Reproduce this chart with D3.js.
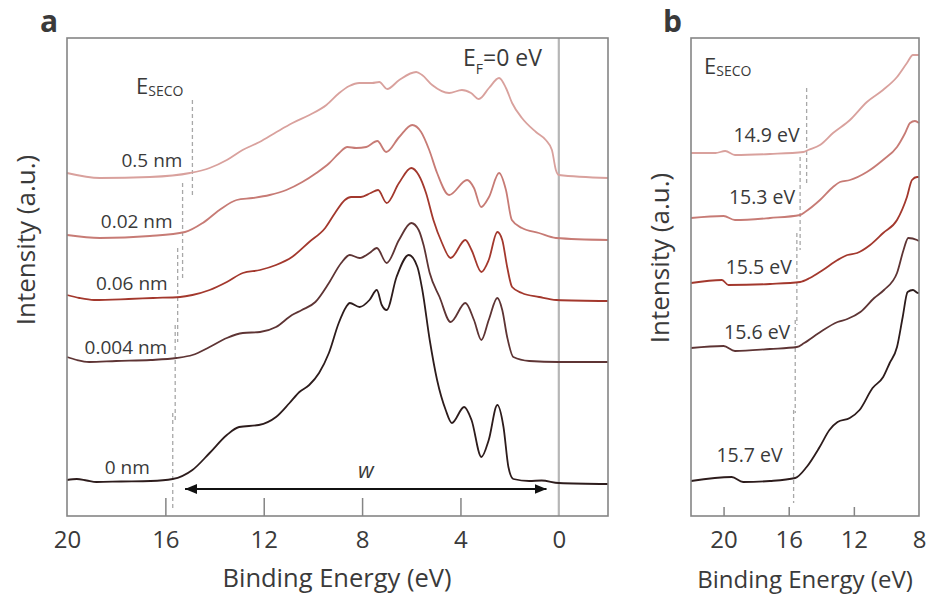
<!DOCTYPE html>
<html>
<head>
<meta charset="utf-8">
<script src="https://cdn.jsdelivr.net/npm/d3@7"></script>
<style>
  body { margin: 0; background: #fff; }
  text { font-family: 'Open Sans', sans-serif; fill: #3a3a3a; }
</style>
</head>
<body>
<svg id="fig" width="928" height="595"></svg>
<script>
// ---------- data: UPS spectra, binding energy (eV) vs intensity (a.u., baseline-subtracted) ----------
const thicknessLabels = ["0.5 nm", "0.02 nm", "0.06 nm", "0.004 nm", "0 nm"];
const secoLabels      = ["14.9 eV", "15.3 eV", "15.5 eV", "15.6 eV", "15.7 eV"];
const secoValues      = [14.9, 15.3, 15.5, 15.6, 15.7];
const seriesColors    = ["#d9a19d", "#c77b75", "#a3382d", "#5e3434", "#2d1c1c"];

// full valence-band spectra (panel a)
const spec05 = [[20,3],[18.66,-2],[16.63,-1],[15.0,3],[14.2,8],[13.5,16],[12.86,26],[12.17,34],[11.48,44],[10.83,53],[10.14,61],[9.45,71],[8.93,83],[8.52,90],[8.11,93],[7.59,93],[7.3,94],[6.98,87],[6.49,96],[5.8,104],[5.56,101],[5.15,91],[4.46,83],[3.94,86],[3.57,83],[3.25,77],[2.84,88],[2.43,98],[2.15,88],[1.9,73],[1.5,58],[0.93,44],[0.53,36],[0.28,26],[0.12,6],[0,1],[-2,-2]];
const spec002 = [[20,-1],[18.66,-4],[16.63,-2],[15.2,2],[14.48,11],[13.8,24],[13.1,34],[12.45,36],[11.76,39],[11.08,44],[10.43,52],[9.86,61],[9.33,71],[8.93,81],[8.6,87],[8.24,86],[7.83,87],[7.38,93],[7.02,82],[6.49,97],[5.96,109],[5.6,102],[5.27,84],[4.95,61],[4.46,39],[3.73,54],[3.45,46],[3.16,27],[2.84,37],[2.43,61],[2.15,44],[1.91,14],[1.5,6],[0.81,1],[0.12,-4],[-2,-6]];
const spec006 = [[20,3],[19.5,0],[18.9,-2],[17.5,-1],[16.5,0],[15.4,1],[14.9,3],[14.2,8],[13.5,16],[12.85,25],[12.15,28],[11.5,33],[10.85,41],[10.15,56],[9.5,70],[9.1,85],[8.7,98],[8.45,101],[8.05,101],[7.65,105],[7.35,108],[7.0,95],[6.5,115],[6.0,130],[5.7,123],[5.4,105],[5.1,78],[4.75,55],[4.4,40],[3.8,58],[3.55,48],[3.15,26],[2.85,38],[2.5,66],[2.3,58],[2.1,31],[1.9,11],[1.5,5],[0.8,1],[0.1,-2],[-2,-3]];
const spec0004 = [[20,3],[19.6,0],[19.1,-2],[18,-1],[16.6,0],[15.55,2],[14.9,5],[14.2,13],[13.5,22],[12.85,27],[12.15,28],[11.5,33],[10.85,45],[10.45,50],[9.9,58],[9.35,77],[8.85,97],[8.5,105],[8.1,102],[7.7,107],[7.4,112],[7.0,97],[6.5,120],[6.0,137],[5.7,130],[5.5,115],[5.25,87],[4.85,63],[4.4,38],[3.8,57],[3.45,40],[3.15,20],[2.85,40],[2.5,62],[2.3,50],[2.1,23],[1.85,3],[1.2,-1],[0,-2],[-2,-2]];
const spec0 = [[20,1],[19.6,2],[19.2,0.5],[18.8,-1],[17.8,-0.5],[16.6,0],[15.7,2],[14.9,11],[14.2,28],[13.5,46],[13.0,54],[12.2,56],[11.5,64],[10.95,78],[10.55,89],[10.15,96],[9.75,108],[9.35,128],[8.95,158],[8.65,174],[8.5,178],[8.1,174],[7.7,181],[7.4,191],[7.2,176],[7.0,171],[6.6,204],[6.1,226],[5.75,214],[5.55,191],[5.25,141],[4.95,101],[4.6,71],[4.35,58],[3.85,74],[3.55,61],[3.15,24],[2.85,41],[2.5,76],[2.25,54],[2.05,14],[1.85,2],[1.2,0],[0.7,0.5],[0,-2],[-2,-3]];
const spectraA = [spec05, spec002, spec006, spec0004, spec0];
const offsetsA = [340, 282, 218, 156, 35];
// dashed SECO marker extent, relative to each baseline (a.u.)
const secoSpanA = [[-19,76],[-44,51],[-44,50],[-62,35],[-27,68]];

// secondary-electron cutoff region (panel b)
const cut149 = [[22,1],[20.5,1],[19.9,3],[19.3,-1],[17.15,0],[15.1,2],[14.8,4],[14.08,9],[13.28,21],[12.24,34],[11.2,52],[10.21,64],[9.35,77],[8.74,91],[8.37,99],[8,99]];
const cut153 = [[22,0],[20,2],[19.3,-2],[17.15,0],[15.3,3],[15.0,6],[14.08,18],[13.28,31],[12.85,36],[12.24,38],[11.2,46],[10.21,58],[9.35,71],[8.85,85],[8.55,95],[8.25,97],[8,95]];
const cut155 = [[22,1],[20.1,4],[19.7,-1],[17.15,0],[15.3,2],[14.7,6],[13.9,14],[13.0,24],[12.4,29],[11.8,31],[11.0,39],[10.2,51],[9.35,64],[8.74,87],[8.43,104],[8.12,107],[8,107]];
const cut156 = [[22,1],[20,3],[19.3,-2],[17.15,0],[15.5,2],[15.05,6],[14.15,16],[13.0,27],[12.4,30],[11.6,37],[10.75,51],[10.15,59],[9.35,76],[8.95,99],[8.66,111],[8.12,109],[8,108]];
const cut157 = [[22,0],[19.5,4],[18.8,-1],[17.15,0],[15.6,3],[14.9,14],[14.1,34],[13.5,51],[13.0,59],[12.25,63],[11.65,71],[10.85,93],[10.2,104],[9.8,118],[9.35,134],[9.0,164],[8.7,189],[8.37,191],[8.06,188],[8,188]];
const spectraB = [cut149, cut153, cut155, cut156, cut157];
const offsetsB = [362, 298, 232, 167, 35];
const secoSpanB = [[-29,66],[-32,61],[-41,51],[-64,29],[-22,71]];

const ticksA = [20, 16, 12, 8, 4, 0];
const ticksB = [20, 16, 12, 8];
const fermiLevel = 0;
const widthArrow = [15.2, 0.5];   // W: SECO to valence-band edge

// ---------- layout ----------
const svg = d3.select("#fig");
const frameColor = "#858585";
const dashColor = "#a8a8a8";
const labelNudgeA = [[10,16],[10,13],[10,15],[8,13],[23,14]];
const labelNudgeB = [[7,19],[5,21],[5,17],[5,17],[11,26]];

const defs = svg.append("defs");
defs.append("marker").attr("id", "head")
  .attr("markerUnits", "userSpaceOnUse")
  .attr("markerWidth", 12).attr("markerHeight", 10)
  .attr("refX", 12).attr("refY", 5)
  .attr("orient", "auto-start-reverse")
  .append("path").attr("d", "M0,0 L12,5 L0,10 Z").attr("fill", "#111");

function panel(cfg) {
  const { x, y, spectra, offsets, spans, labels, nudges, ticks, tickLen, tickSizeFont } = cfg;
  const g = svg.append("g");
  const [x0, x1] = x.range();
  const [y1, y0] = y.range();

  // axis with inward ticks
  const axis = d3.axisBottom(x).tickValues(ticks).tickSizeInner(-tickLen).tickSizeOuter(0)
    .tickPadding(15).tickFormat(d3.format("d"));
  const ax = g.append("g").attr("transform", `translate(0,${y1})`).call(axis);
  ax.select(".domain").remove();
  ax.selectAll(".tick line").attr("stroke", frameColor).attr("stroke-width", 1.5)
    .filter(d => cfg.noTickAt.includes(d)).remove();
  ax.selectAll(".tick text").style("font-family", "'Open Sans', sans-serif")
    .style("font-size", tickSizeFont + "px").attr("fill", "#3a3a3a");

  if (cfg.fermi !== undefined) {
    g.append("line").attr("x1", x(cfg.fermi)).attr("x2", x(cfg.fermi))
      .attr("y1", y0).attr("y2", y1).attr("stroke", "#b6b6b6").attr("stroke-width", 2.2);
  }

  // SECO dashed markers
  spectra.forEach((s, i) => {
    g.append("line")
      .attr("x1", x(secoValues[i])).attr("x2", x(secoValues[i]))
      .attr("y1", y(offsets[i] + spans[i][1])).attr("y2", y(offsets[i] + spans[i][0]))
      .attr("stroke", dashColor).attr("stroke-width", 1.3).attr("stroke-dasharray", "4,3");
  });

  // spectra
  spectra.forEach((s, i) => {
    const line = d3.line()
      .x(d => x(d[0]))
      .y(d => y(d[1] + offsets[i]))
      .curve(d3.curveMonotoneX);
    g.append("path").datum(s).attr("d", line)
      .attr("fill", "none").attr("stroke", seriesColors[i]).attr("stroke-width", 1.8)
      .attr("stroke-linejoin", "round");
  });

  // spectrum labels
  labels.forEach((t, i) => {
    g.append("text")
      .attr("x", x(secoValues[i]) - nudges[i][0])
      .attr("y", y(offsets[i]) - nudges[i][1])
      .attr("dy", "0.35em").attr("text-anchor", "end")
      .style("font-size", cfg.labelFont + "px").text(t);
  });

  // frame
  g.append("rect").attr("x", x0).attr("y", y0).attr("width", x1 - x0).attr("height", y1 - y0)
    .attr("fill", "none").attr("stroke", frameColor).attr("stroke-width", 1.6);

  // axis titles
  g.append("text").attr("x", cfg.xTitle[0]).attr("y", cfg.xTitle[1]).attr("text-anchor", "middle")
    .attr("dy", "0.35em").style("font-size", cfg.titleFont + "px").text("Binding Energy (eV)");
  g.append("text").attr("transform", `translate(${cfg.yTitle[0]},${cfg.yTitle[1]}) rotate(-90)`)
    .attr("text-anchor", "middle").attr("dy", "0.35em")
    .style("font-size", cfg.yTitleFont + "px").text("Intensity (a.u.)");

  // panel letter
  g.append("text").attr("x", cfg.letter[1]).attr("y", 32)
    .style("font-size", "30px").style("font-weight", "700").attr("fill", "#111")
    .text(cfg.letter[0]);

  // E_SECO heading
  const es = g.append("text").attr("x", cfg.seco[0]).attr("y", cfg.seco[1]).style("font-size", "22px");
  es.append("tspan").text("E");
  es.append("tspan").attr("dy", 2).style("font-size", "14px").text("SECO");
  return g;
}

const xA = d3.scaleLinear().domain([20, -2]).range([67, 608]);
const yA = d3.scaleLinear().domain([0, 478]).range([516, 38]);
const gA = panel({
  x: xA, y: yA, spectra: spectraA, offsets: offsetsA, spans: secoSpanA,
  labels: thicknessLabels, nudges: labelNudgeA, ticks: ticksA, tickLen: 18, noTickAt: [20, 0],
  tickSizeFont: 24, labelFont: 19, titleFont: 25.5, yTitleFont: 26, fermi: fermiLevel,
  xTitle: [337, 578], yTitle: [26, 240], letter: ["a", 40], seco: [136, 94]
});

// Fermi level note
const ef = gA.append("text").attr("x", 463).attr("y", 66).style("font-size", "23px");
ef.append("tspan").text("E");
ef.append("tspan").attr("dy", 8).style("font-size", "14px").text("F");
ef.append("tspan").attr("dy", -8).text("=0 eV");

// width arrow W
const arrowY = yA(offsetsA[4]) + 8;
gA.append("line").attr("x1", xA(widthArrow[0])).attr("x2", xA(widthArrow[1]))
  .attr("y1", arrowY).attr("y2", arrowY).attr("stroke", "#111").attr("stroke-width", 1.8)
  .attr("marker-start", "url(#head)").attr("marker-end", "url(#head)");
gA.append("text").attr("x", xA((widthArrow[0] + widthArrow[1]) / 2)).attr("y", arrowY - 11)
  .attr("text-anchor", "middle").style("font-size", "22px").style("font-style", "italic").text("w");

const xB = d3.scaleLinear().domain([22, 8]).range([691, 919]);
const yB = d3.scaleLinear().domain([0, 478]).range([516, 38]);
panel({
  x: xB, y: yB, spectra: spectraB, offsets: offsetsB, spans: secoSpanB,
  labels: secoLabels, nudges: labelNudgeB, ticks: ticksB, tickLen: 9, noTickAt: [8],
  tickSizeFont: 24, labelFont: 19.5, titleFont: 24, yTitleFont: 26,
  xTitle: [805, 580], yTitle: [660, 258], letter: ["b", 663], seco: [704, 74]
});
</script>
</body>
</html>
